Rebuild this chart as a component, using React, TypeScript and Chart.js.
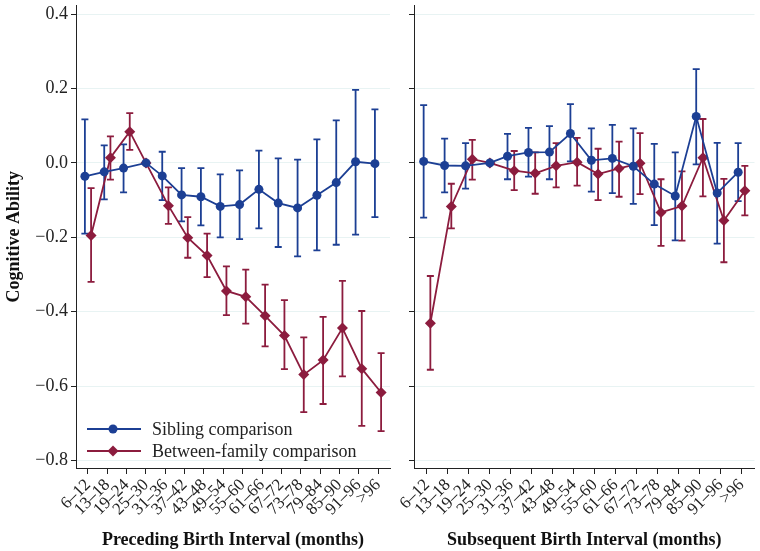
import React, { useEffect, useRef } from 'react';
import { Chart, registerables } from 'chart.js';

Chart.register(...registerables);

const categories = ['6–12', '13–18', '19–24', '25–30', '31–36', '37–42', '43–48', '49–54', '55–60', '61–66', '67–72', '73–78', '79–84', '85–90', '91–96', '>96'];
const yTickValues = [-0.8, -0.6, -0.4, -0.2, 0, 0.2, 0.4];
const seriesNames = ['Sibling comparison', 'Between-family comparison'];
const referenceIndex = 3;
const yAxisTitle = 'Cognitive Ability';
const panelTitles = ['Preceding Birth Interval (months)', 'Subsequent Birth Interval (months)'];

// Preceding birth interval
const precSib = [-0.036, -0.024, -0.014, 0, -0.035, -0.086, -0.091, -0.117, -0.112, -0.071, -0.108, -0.121, -0.087, -0.053, 0.003, -0.002];
const precSibHi = [0.117, 0.047, 0.050, null, 0.030, -0.014, -0.014, -0.031, -0.020, 0.033, 0.012, 0.009, 0.063, 0.114, 0.196, 0.144];
const precSibLo = [-0.190, -0.098, -0.079, null, -0.100, -0.157, -0.168, -0.200, -0.205, -0.176, -0.226, -0.251, -0.235, -0.220, -0.193, -0.146];
const precBet = [-0.195, 0.014, 0.084, 0, -0.115, -0.201, -0.249, -0.344, -0.360, -0.411, -0.464, -0.569, -0.530, -0.444, -0.553, -0.617];
const precBetHi = [-0.068, 0.071, 0.134, null, -0.066, -0.146, -0.190, -0.278, -0.287, -0.327, -0.369, -0.469, -0.414, -0.317, -0.398, -0.511];
const precBetLo = [-0.320, -0.045, 0.035, null, -0.164, -0.255, -0.307, -0.409, -0.432, -0.493, -0.554, -0.670, -0.648, -0.574, -0.707, -0.721];

// Subsequent birth interval
const subsSib = [0.004, -0.007, -0.008, 0, 0.018, 0.028, 0.029, 0.079, 0.007, 0.012, -0.009, -0.057, -0.089, 0.125, -0.081, -0.025];
const subsSibHi = [0.155, 0.065, 0.053, null, 0.078, 0.094, 0.099, 0.158, 0.093, 0.102, 0.093, 0.051, 0.028, 0.252, 0.054, 0.053];
const subsSibLo = [-0.147, -0.079, -0.069, null, -0.044, -0.037, -0.044, 0.004, -0.077, -0.081, -0.110, -0.167, -0.208, -0.004, -0.217, -0.103];
const subsBet = [-0.431, -0.117, 0.010, 0, -0.021, -0.028, -0.008, 0.002, -0.030, -0.015, -0.001, -0.133, -0.116, 0.014, -0.155, -0.075];
const subsBetHi = [-0.304, -0.056, 0.062, null, 0.032, 0.028, 0.053, 0.067, 0.038, 0.057, 0.080, -0.044, -0.023, 0.118, -0.043, -0.008];
const subsBetLo = [-0.556, -0.176, -0.045, null, -0.073, -0.083, -0.066, -0.061, -0.100, -0.091, -0.084, -0.223, -0.209, -0.090, -0.267, -0.141];

const BLUE = '#1c3f94';
const RED = '#8c1c3e';
const FONT = "'Liberation Serif', 'DejaVu Serif', 'Times New Roman', serif";
const DODGE = 0.16;

const fmt = (v: number) => {
  const r = Math.round(v * 10) / 10;
  const s = Math.abs(r).toFixed(1);
  return r < 0 ? '\u2212' + s : s;
};

const errorBarPlugin = {
  id: 'errorBars',
  beforeDatasetsDraw(chart: any) {
    const ctx = chart.ctx;
    const yScale = chart.scales.y;
    chart.data.datasets.forEach((ds: any, di: number) => {
      const meta = chart.getDatasetMeta(di);
      ctx.save();
      ctx.strokeStyle = ds.borderColor;
      ctx.lineWidth = 1.8;
      ds.errHi.forEach((hi: number | null, i: number) => {
        const lo = ds.errLo[i];
        if (hi === null || lo === null) return;
        const x = meta.data[i].x;
        const y1 = yScale.getPixelForValue(hi);
        const y2 = yScale.getPixelForValue(lo);
        const cap = 3.5;
        ctx.beginPath();
        ctx.moveTo(x, y1);
        ctx.lineTo(x, y2);
        ctx.moveTo(x - cap, y1);
        ctx.lineTo(x + cap, y1);
        ctx.moveTo(x - cap, y2);
        ctx.lineTo(x + cap, y2);
        ctx.stroke();
      });
      ctx.restore();
    });
  },
};

const legendPlugin = {
  id: 'panelLegend',
  afterDraw(chart: any, _args: any, opts: any) {
    if (!opts || !opts.show) return;
    const ctx = chart.ctx;
    const area = chart.chartArea;
    const x0 = area.left + 11;
    const x1 = x0 + 54;
    const xm = x0 + 26;
    const rows = [area.bottom - 39, area.bottom - 17];
    chart.data.datasets.forEach((ds: any, i: number) => {
      const y = rows[i];
      ctx.save();
      ctx.strokeStyle = ds.borderColor;
      ctx.fillStyle = ds.borderColor;
      ctx.lineWidth = 1.8;
      ctx.beginPath();
      ctx.moveTo(x0, y);
      ctx.lineTo(x1, y);
      ctx.stroke();
      ctx.beginPath();
      if (ds.pointStyle === 'rectRot') {
        const r = 5.5;
        ctx.moveTo(xm, y - r);
        ctx.lineTo(xm + r, y);
        ctx.lineTo(xm, y + r);
        ctx.lineTo(xm - r, y);
        ctx.closePath();
      } else {
        ctx.arc(xm, y, 4.5, 0, Math.PI * 2);
      }
      ctx.fill();
      ctx.fillStyle = '#222';
      ctx.font = `18px ${FONT}`;
      ctx.textBaseline = 'middle';
      ctx.textAlign = 'left';
      ctx.fillText(ds.label, x1 + 11, y + 1);
      ctx.restore();
    });
  },
};

function makeConfig(
  sib: number[], sibHi: (number | null)[], sibLo: (number | null)[],
  bet: number[], betHi: (number | null)[], betLo: (number | null)[],
  xTitle: string, first: boolean
): any {
  const pts = (vals: number[], off: number) =>
    vals.map((v, i) => ({ x: i === referenceIndex ? i : i + off, y: v }));
  return {
    type: 'line',
    data: {
      datasets: [
        {
          label: seriesNames[0],
          data: pts(sib, -DODGE),
          errHi: sibHi,
          errLo: sibLo,
          borderColor: BLUE,
          backgroundColor: BLUE,
          borderWidth: 1.8,
          pointStyle: 'circle',
          pointRadius: 4.5,
          pointBorderWidth: 0,
        },
        {
          label: seriesNames[1],
          data: pts(bet, DODGE),
          errHi: betHi,
          errLo: betLo,
          borderColor: RED,
          backgroundColor: RED,
          borderWidth: 1.8,
          pointStyle: 'rectRot',
          pointRadius: 5.5,
          pointBorderWidth: 0,
        },
      ],
    },
    options: {
      animation: false,
      responsive: true,
      maintainAspectRatio: false,
      layout: { padding: { top: 4, right: first ? 10 : 2, left: 0, bottom: 0 } },
      plugins: {
        legend: { display: false },
        tooltip: { enabled: false },
        panelLegend: { show: first },
      },
      scales: {
        x: {
          type: 'linear',
          min: -0.62,
          max: 15.62,
          afterBuildTicks: (scale: any) => {
            scale.ticks = categories.map((_, i) => ({ value: i }));
          },
          afterFit: (scale: any) => {
            scale.height = 83;
            scale.paddingLeft = 0;
            scale.paddingRight = 0;
          },
          ticks: {
            autoSkip: false,
            minRotation: 45,
            maxRotation: 45,
            padding: 1,
            color: '#222',
            font: { size: 17, family: FONT },
            callback: (v: number) => categories[Math.round(v)],
          },
          grid: { drawOnChartArea: false, tickLength: 6, tickColor: '#222', lineWidth: 1 },
          border: { color: '#222', width: 1 },
          title: {
            display: true,
            text: xTitle,
            color: '#111',
            font: { size: 18, weight: 'bold', family: FONT },
            padding: { top: 0, bottom: 0 },
          },
        },
        y: {
          type: 'linear',
          min: -0.82,
          max: 0.423,
          afterBuildTicks: (scale: any) => {
            scale.ticks = yTickValues.map((v) => ({ value: v }));
          },
          afterFit: (scale: any) => {
            scale.width = first ? 76 : 14;
            scale.paddingTop = 0;
            scale.paddingBottom = 0;
          },
          ticks: {
            display: first,
            padding: 3,
            color: '#222',
            font: { size: 18, family: FONT },
            callback: (v: number) => fmt(v),
          },
          grid: { color: '#e8f3f3', tickColor: '#222', tickLength: 5, lineWidth: 1 },
          border: { color: '#222', width: 1 },
          title: {
            display: first,
            text: yAxisTitle,
            color: '#111',
            font: { size: 18, weight: 'bold', family: FONT },
            padding: { top: 4, bottom: 4 },
          },
        },
      },
    },
    plugins: [errorBarPlugin, legendPlugin],
  };
}

function Panel(props: { first: boolean; width: number }) {
  const ref = useRef<HTMLCanvasElement | null>(null);
  useEffect(() => {
    if (!ref.current) return;
    const cfg = props.first
      ? makeConfig(precSib, precSibHi, precSibLo, precBet, precBetHi, precBetLo, panelTitles[0], true)
      : makeConfig(subsSib, subsSibHi, subsSibLo, subsBet, subsBetHi, subsBetLo, panelTitles[1], false);
    const chart = new Chart(ref.current, cfg);
    return () => chart.destroy();
  }, [props.first]);
  return (
    <div style={{ position: 'relative', width: props.width, height: 551 }}>
      <canvas ref={ref} />
    </div>
  );
}

export default function App() {
  return (
    <div
      style={{
        position: 'fixed',
        left: 0,
        top: 0,
        width: 760,
        height: 551,
        display: 'flex',
        background: '#fff',
      }}
    >
      <Panel first={true} width={400} />
      <Panel first={false} width={360} />
    </div>
  );
}
